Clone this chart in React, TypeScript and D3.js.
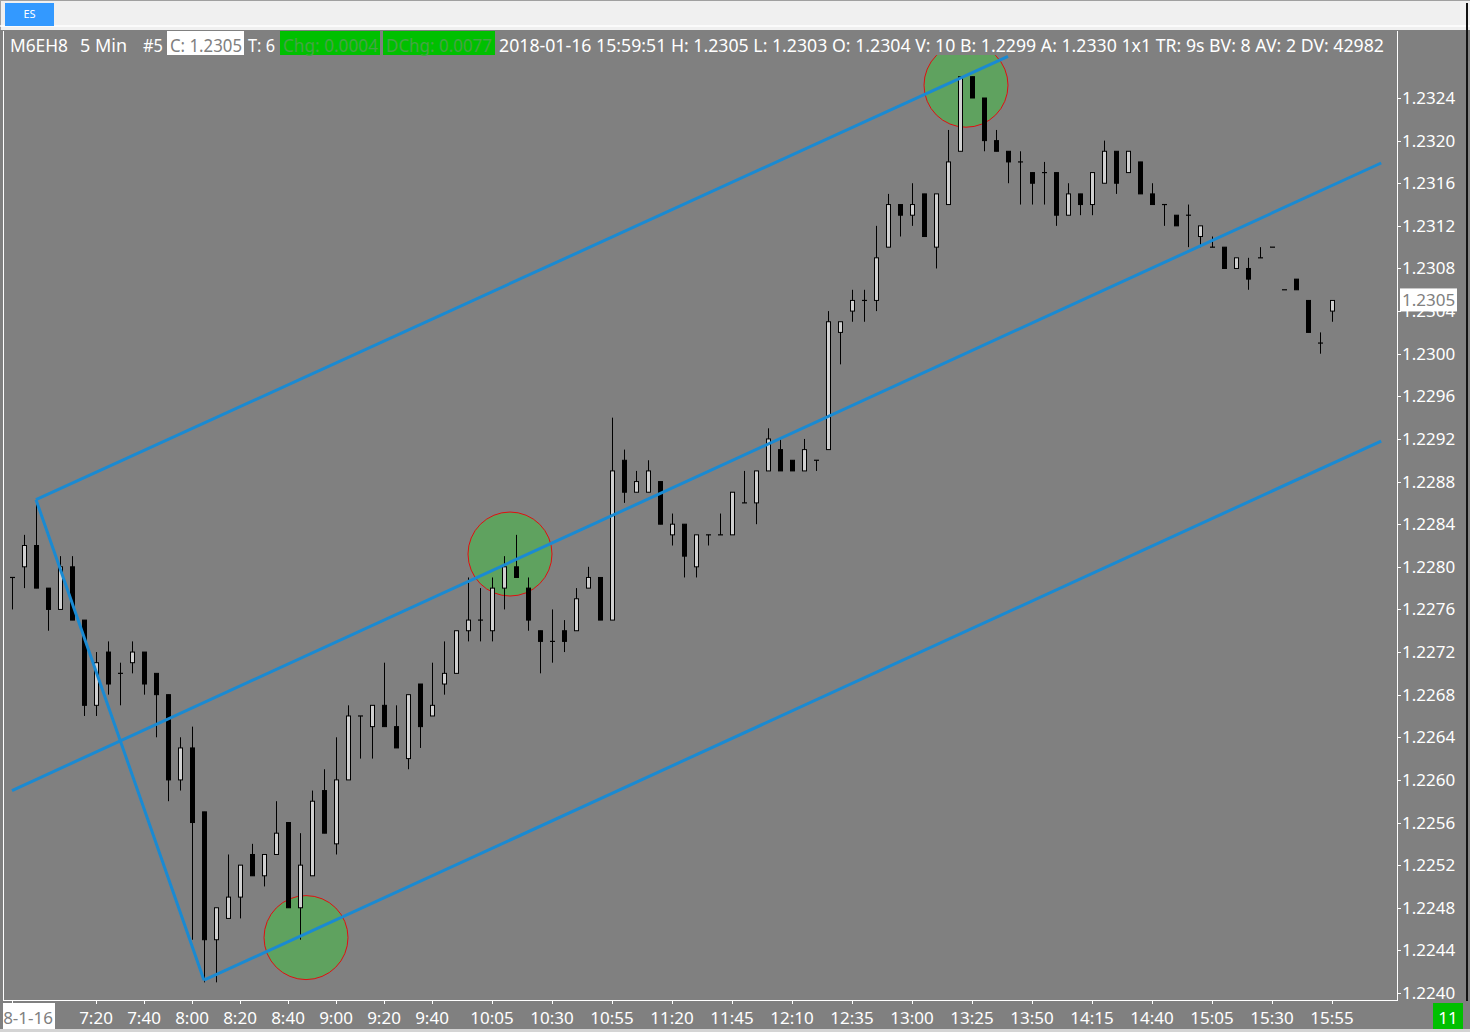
import React from 'react';
import * as d3 from 'd3';

// ---------- DATA ----------
// 5-minute bars starting 06:45, index 0..110 (last bar 15:55)
const opens = [
  1.2279, 1.2280, 1.2282, 1.2278, 1.2276, 1.2280, 1.2275, 1.2267, 1.2272, 1.2270,
  1.2271, 1.2272, 1.2270, 1.2268, 1.2260, 1.2263, 1.2257, 1.2245, 1.2247, 1.2249,
  1.2253, 1.2251, 1.2253, 1.2256, 1.2248, 1.2251, 1.2259, 1.2254, 1.2260, 1.2266,
  1.2265, 1.2267, 1.2265, 1.2262, 1.2269, 1.2266, 1.2269, 1.2270, 1.2274, 1.2275,
  1.2274, 1.2278, 1.2280, 1.2278, 1.2274, 1.2273, 1.2274, 1.2274, 1.2278, 1.2279,
  1.2275, 1.2290, 1.2287, 1.2287, 1.2288, 1.2283, 1.2284, 1.2280, 1.2283, 1.2283,
  1.2283, 1.2286, 1.2286, 1.2289, 1.2291, 1.2290, 1.2289, 1.2290, 1.2291, 1.2302,
  1.2304, 1.2305, 1.2305, 1.2310, 1.2314, 1.2313, 1.2315, 1.2310, 1.2314, 1.2319,
  1.2326, 1.2324, 1.2320, 1.2319, 1.2318, 1.2317, 1.2317, 1.2317, 1.2313, 1.2315,
  1.2314, 1.2316, 1.2319, 1.2317, 1.2318, 1.2315, 1.2314, 1.2313, 1.2313, 1.2311,
  1.2310, 1.2310, 1.2308, 1.2308, 1.2309, 1.2310, 1.2306, 1.2307, 1.2305, 1.2301,
  1.2304,
];
const highs = [
  1.2279, 1.2283, 1.2286, 1.2278, 1.2281, 1.2281, 1.2275, 1.2272, 1.2273, 1.2271,
  1.2273, 1.2272, 1.2270, 1.2268, 1.2264, 1.2265, 1.2257, 1.2248, 1.2253, 1.2252,
  1.2254, 1.2253, 1.2258, 1.2256, 1.2255, 1.2259, 1.2261, 1.2264, 1.2267, 1.2266,
  1.2267, 1.2271, 1.2267, 1.2268, 1.2269, 1.2271, 1.2273, 1.2274, 1.2279, 1.2278,
  1.2279, 1.2281, 1.2283, 1.2279, 1.2274, 1.2276, 1.2275, 1.2278, 1.2280, 1.2279,
  1.2294, 1.2291, 1.2289, 1.2290, 1.2288, 1.2285, 1.2284, 1.2283, 1.2283, 1.2285,
  1.2287, 1.2289, 1.2289, 1.2293, 1.2292, 1.2290, 1.2292, 1.2290, 1.2304, 1.2303,
  1.2306, 1.2306, 1.2312, 1.2315, 1.2314, 1.2316, 1.2315, 1.2315, 1.2321, 1.2326,
  1.2326, 1.2324, 1.2321, 1.2319, 1.2319, 1.2317, 1.2318, 1.2317, 1.2316, 1.2315,
  1.2317, 1.2320, 1.2319, 1.2319, 1.2318, 1.2316, 1.2314, 1.2313, 1.2314, 1.2312,
  1.2311, 1.2310, 1.2309, 1.2309, 1.2310, 1.2310, 1.2306, 1.2307, 1.2305, 1.2302,
  1.2305,
];
const lows = [
  1.2276, 1.2278, 1.2278, 1.2274, 1.2276, 1.2275, 1.2266, 1.2266, 1.2268, 1.2267,
  1.2270, 1.2268, 1.2264, 1.2258, 1.2259, 1.2245, 1.2241, 1.2241, 1.2247, 1.2247,
  1.2251, 1.2250, 1.2253, 1.2248, 1.2245, 1.2251, 1.2255, 1.2253, 1.2260, 1.2262,
  1.2262, 1.2265, 1.2263, 1.2261, 1.2263, 1.2266, 1.2268, 1.2270, 1.2273, 1.2273,
  1.2273, 1.2276, 1.2279, 1.2274, 1.2270, 1.2271, 1.2272, 1.2274, 1.2278, 1.2275,
  1.2275, 1.2286, 1.2287, 1.2287, 1.2284, 1.2282, 1.2279, 1.2279, 1.2282, 1.2283,
  1.2283, 1.2286, 1.2284, 1.2289, 1.2289, 1.2289, 1.2289, 1.2289, 1.2291, 1.2299,
  1.2303, 1.2303, 1.2304, 1.2310, 1.2311, 1.2312, 1.2311, 1.2308, 1.2314, 1.2319,
  1.2324, 1.2319, 1.2319, 1.2316, 1.2314, 1.2314, 1.2314, 1.2312, 1.2313, 1.2313,
  1.2313, 1.2316, 1.2315, 1.2317, 1.2315, 1.2314, 1.2312, 1.2312, 1.2310, 1.2310,
  1.2310, 1.2308, 1.2308, 1.2306, 1.2309, 1.2310, 1.2306, 1.2306, 1.2302, 1.2300,
  1.2303,
];
const closes = [
  1.2279, 1.2282, 1.2278, 1.2276, 1.2280, 1.2275, 1.2267, 1.2271, 1.2269, 1.2270,
  1.2272, 1.2269, 1.2268, 1.2260, 1.2263, 1.2256, 1.2245, 1.2248, 1.2249, 1.2252,
  1.2251, 1.2253, 1.2255, 1.2248, 1.2252, 1.2258, 1.2255, 1.2260, 1.2266, 1.2266,
  1.2267, 1.2265, 1.2263, 1.2268, 1.2265, 1.2267, 1.2270, 1.2274, 1.2275, 1.2275,
  1.2278, 1.2280, 1.2279, 1.2275, 1.2273, 1.2273, 1.2273, 1.2277, 1.2279, 1.2275,
  1.2289, 1.2287, 1.2288, 1.2289, 1.2284, 1.2284, 1.2281, 1.2283, 1.2283, 1.2283,
  1.2287, 1.2286, 1.2289, 1.2292, 1.2289, 1.2289, 1.2291, 1.2290, 1.2303, 1.2303,
  1.2305, 1.2305, 1.2309, 1.2314, 1.2313, 1.2314, 1.2311, 1.2315, 1.2318, 1.2326,
  1.2324, 1.2320, 1.2319, 1.2318, 1.2318, 1.2316, 1.2317, 1.2313, 1.2315, 1.2314,
  1.2317, 1.2319, 1.2316, 1.2319, 1.2315, 1.2314, 1.2314, 1.2312, 1.2313, 1.2312,
  1.2310, 1.2308, 1.2309, 1.2307, 1.2309, 1.2310, 1.2306, 1.2306, 1.2302, 1.2301,
  1.2305,
];

const firstBarTime = '6:45';
const barMinutes = 5;
const timeTickLabels = [
  '7:20', '7:40', '8:00', '8:20', '8:40', '9:00', '9:20', '9:40', '10:05', '10:30',
  '10:55', '11:20', '11:45', '12:10', '12:35', '13:00', '13:25', '13:50', '14:15',
  '14:40', '15:05', '15:30', '15:55',
];
const dateLabel = '2018-1-16';
const priceTickLabels = [
  '1.2240', '1.2244', '1.2248', '1.2252', '1.2256', '1.2260', '1.2264', '1.2268',
  '1.2272', '1.2276', '1.2280', '1.2284', '1.2288', '1.2292', '1.2296', '1.2300',
  '1.2304', '1.2308', '1.2312', '1.2316', '1.2320', '1.2324',
];
const lastPrice = 1.2305;
const barCountLabel = '11';

// drawn channel (bar index, price) pairs
const channelLines: [number, number, number, number][] = [
  [2, 1.22863, 83, 1.23279],
  [0, 1.2259, 114.1, 1.23179],
  [16, 1.22412, 114.1, 1.22918],
  [2, 1.22863, 16, 1.22412],
];
// highlighted touch points (bar index, price)
const touchPoints: [number, number][] = [
  [24.5, 1.22452],
  [41.5, 1.22812],
  [79.5, 1.23252],
];

const headerTexts = [
  'M6EH8', '5 Min', '#5', 'C: 1.2305', 'T: 6', 'Chg: 0.0004', 'DChg: 0.0077',
  '2018-01-16 15:59:51 H: 1.2305 L: 1.2303 O: 1.2304 V: 10 B: 1.2299 A: 1.2330 1x1 TR: 9s BV: 8 AV: 2 DV: 42982',
];

// ---------- LAYOUT / STYLE ----------
const W = 1470;
const H = 1032;
const FONT = "'Noto Sans', 'Open Sans', sans-serif";
const GRAY = '#808080';
const BLUE = '#1a8ad2';
const plot = { left: 3, right: 1397, top: 30, bottom: 1000, drawTop: 55 };
const headerLayout = [
  { x: 10, len: 58, color: '#ffffff' },
  { x: 80, len: 47, color: '#ffffff' },
  { x: 143, len: 20, color: '#ffffff' },
  { x: 170, len: 72, color: GRAY, bg: '#ffffff', bx: 167, bw: 77 },
  { x: 248, len: 27, color: '#ffffff' },
  { x: 283, len: 95, color: '#45a545', bg: '#00c000', bx: 280, bw: 100 },
  { x: 386, len: 106, color: '#45a545', bg: '#00c000', bx: 383, bw: 112 },
  { x: 499, len: 885, color: '#ffffff' },
];

const toMin = (s: string) => {
  const [h, m] = s.split(':').map(Number);
  return h * 60 + m;
};

export default function App() {
  const n = opens.length;
  const x = d3.scaleLinear().domain([0, n - 1]).range([12, 1332]);
  const y = d3
    .scaleLinear()
    .domain([+priceTickLabels[0], +priceTickLabels[priceTickLabels.length - 1]])
    .range([993, 98]);

  const barIndex = (t: string) => (toMin(t) - toMin(firstBarTime)) / barMinutes;

  const candles = d3.range(n).map((i) => {
    const o = opens[i], h = highs[i], l = lows[i], c = closes[i];
    const cx = Math.round(x(i)) + 0.5;
    const doji = Math.abs(o - c) < 1e-7;
    const top = y(Math.max(o, c));
    const bot = y(Math.min(o, c));
    return (
      <g key={i}>
        <line x1={cx} x2={cx} y1={y(h)} y2={y(l)} stroke="#000" strokeWidth={1} />
        {doji ? (
          <line x1={cx - 2.5} x2={cx + 2.5} y1={y(o)} y2={y(o)} stroke="#000" strokeWidth={1.2} />
        ) : (
          <rect
            x={cx - 2}
            y={top}
            width={4}
            height={Math.max(bot - top, 1)}
            fill={c > o ? '#d0d0d0' : '#000'}
            stroke="#000"
            strokeWidth={1}
          />
        )}
      </g>
    );
  });

  const lineGen = d3
    .line<[number, number]>()
    .x((d) => x(d[0]))
    .y((d) => y(d[1]));

  const lastY = y(lastPrice);

  return (
    <svg
      width={W}
      height={H}
      style={{ position: 'absolute', left: 0, top: 0, display: 'block' }}
      fontFamily={FONT}
    >
      <defs>
        <clipPath id="plotClip">
          <rect
            x={plot.left}
            y={plot.drawTop}
            width={plot.right - plot.left}
            height={plot.bottom - plot.drawTop}
          />
        </clipPath>
        <clipPath id="dateClip">
          <rect x={plot.left} y={plot.bottom} width={200} height={40} />
        </clipPath>
      </defs>

      {/* background */}
      <rect x={0} y={0} width={W} height={H} fill={GRAY} />

      {/* top tab bar */}
      <rect x={0} y={0} width={W} height={30} fill="#f0f0f0" />
      <line x1={0} x2={W} y1={0.5} y2={0.5} stroke="#a0a0a0" />
      <line x1={0.5} x2={0.5} y1={0} y2={30} stroke="#a0a0a0" />
      <line x1={0} x2={W} y1={26} y2={26} stroke="#ffffff" strokeWidth={1.5} />
      <rect x={5} y={3} width={49} height={23} fill="#3399ff" />
      <text x={29.5} y={18} fontSize={11} fill="#ffffff" textAnchor="middle">
        ES
      </text>

      {/* header info line */}
      {headerTexts.map((t, k) => {
        const L = headerLayout[k];
        return (
          <g key={k}>
            {L.bg && <rect x={L.bx} y={31} width={L.bw} height={24} fill={L.bg} />}
            <text
              x={L.x}
              y={52}
              fontSize={18}
              fill={L.color}
              textLength={L.len}
              lengthAdjust="spacingAndGlyphs"
            >
              {t}
            </text>
          </g>
        );
      })}

      {/* plot content */}
      <g clipPath="url(#plotClip)">
        {touchPoints.map((p, k) => (
          <circle key={k} cx={x(p[0])} cy={y(p[1])} r={42} fill="#5fa25f" stroke="#e01010" strokeWidth={1} />
        ))}
        {candles}
        {channelLines.map((l, k) => (
          <path
            key={k}
            d={lineGen([
              [l[0], l[1]],
              [l[2], l[3]],
            ]) as string}
            stroke={BLUE}
            strokeWidth={3}
            fill="none"
          />
        ))}
      </g>

      {/* frame */}
      <line x1={plot.left + 0.5} x2={plot.left + 0.5} y1={31} y2={plot.bottom} stroke="#fff" />
      <line x1={plot.right + 0.5} x2={plot.right + 0.5} y1={31} y2={plot.bottom + 1} stroke="#fff" />
      <line x1={plot.left} x2={plot.right + 1} y1={plot.bottom + 0.5} y2={plot.bottom + 0.5} stroke="#fff" />

      {/* price axis */}
      {priceTickLabels.map((s) => {
        const yy = y(+s);
        return (
          <g key={s}>
            <line x1={plot.right} x2={plot.right + 4} y1={Math.round(yy) + 0.5} y2={Math.round(yy) + 0.5} stroke="#fff" />
            <text x={1402} y={yy + 6} fontSize={17} fill="#fff">
              {s}
            </text>
          </g>
        );
      })}
      <rect x={1400} y={lastY - 12} width={57} height={23} fill="#fff" />
      <text x={1402} y={lastY + 6} fontSize={17} fill={GRAY}>
        {lastPrice.toFixed(4)}
      </text>

      {/* time axis */}
      <line x1={Math.round(x(0)) + 0.5} x2={Math.round(x(0)) + 0.5} y1={plot.bottom} y2={plot.bottom + 4} stroke="#fff" />
      <g clipPath="url(#dateClip)">
        <rect x={x(0) - 31} y={1003} width={74} height={26} fill="#fff" />
        <text x={x(0) + 41} y={1024} fontSize={17} fill={GRAY} textAnchor="end">
          {dateLabel}
        </text>
      </g>
      {timeTickLabels.map((t) => {
        const xx = x(barIndex(t));
        return (
          <g key={t}>
            <line x1={Math.round(xx) + 0.5} x2={Math.round(xx) + 0.5} y1={plot.bottom} y2={plot.bottom + 4} stroke="#fff" />
            <text x={xx} y={1024} fontSize={17} fill="#fff" textAnchor="middle">
              {t}
            </text>
          </g>
        );
      })}

      {/* bar counter */}
      <rect x={1433} y={1003} width={30} height={26} fill="#00c000" />
      <text x={1448} y={1024} fontSize={17} fill="#fff" textAnchor="middle">
        {barCountLabel}
      </text>

      {/* outer edges */}
      <line x1={1467} x2={1467} y1={3} y2={1001} stroke="#111" strokeWidth={2} />
      <rect x={0} y={1029} width={W} height={3} fill="#d4d4d4" />
    </svg>
  );
}
